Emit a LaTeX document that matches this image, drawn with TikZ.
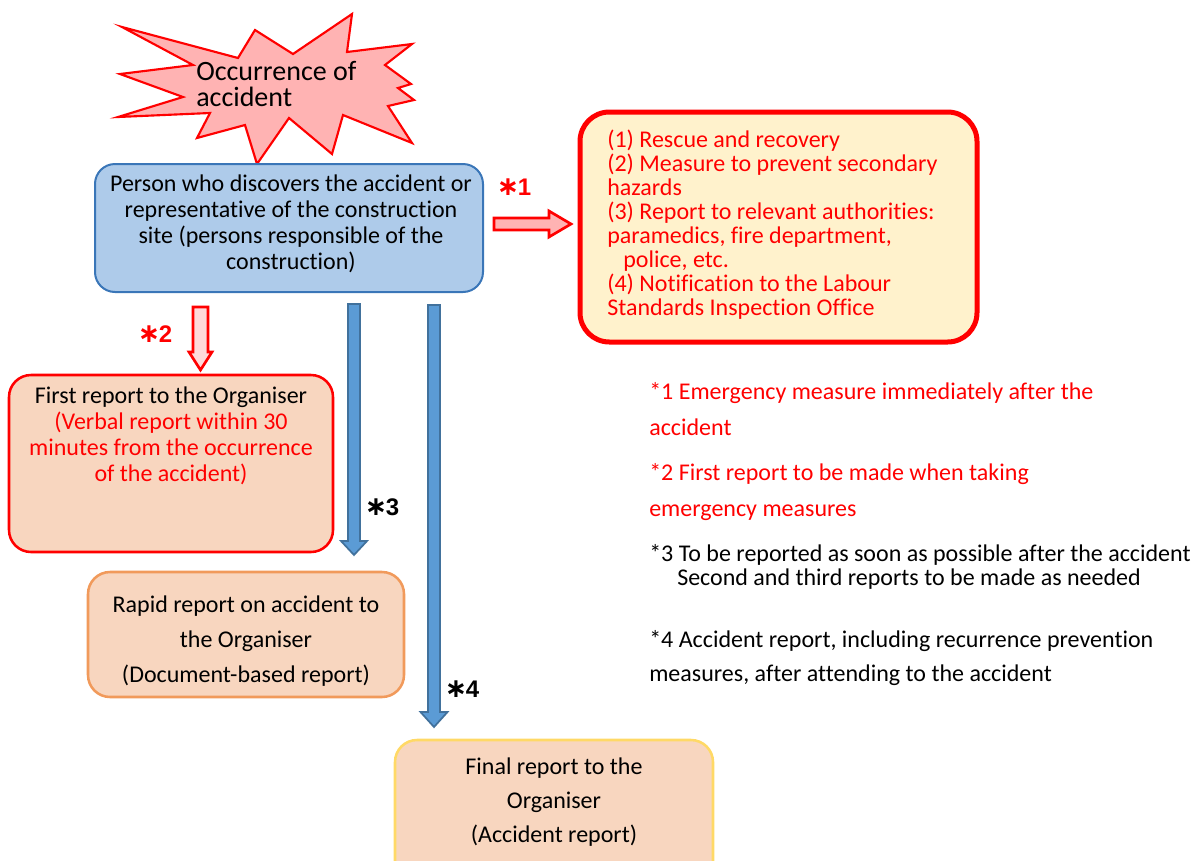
\documentclass[tikz,border=0pt]{standalone}
\usepackage{fontspec}
\setmainfont{Carlito}[Ligatures={NoCommon}]
\newfontfamily\arialfont{Liberation Sans}
\newfontfamily\symfont{DejaVu Sans}
\newcommand{\bigast}{{\symfont\bfseries\fontsize{20}{20}\selectfont ∗}}
\usetikzlibrary{calc}
\definecolor{boxblue}{HTML}{AECBEA}
\definecolor{boxblueline}{HTML}{3A76B8}
\definecolor{arrowblue}{HTML}{5B9BD5}
\definecolor{arrowblueline}{HTML}{41719C}
\definecolor{peach}{HTML}{F8D6BF}
\definecolor{lightyellow}{HTML}{FFF2CC}
\definecolor{starpink}{HTML}{FFB3B3}
\definecolor{palepink}{HTML}{FFDADA}
\definecolor{orangeline}{HTML}{F19A5B}
\definecolor{goldline}{HTML}{FFD966}
\definecolor{myred}{HTML}{FF0000}
\tikzset{
  boxnode/.style={rectangle, inner sep=0pt, rounded corners=15pt},
  txt/.style={inner sep=0pt, font=\fontsize{18}{19.5}\selectfont},
  starlabel/.style={inner sep=0pt, font=\arialfont\bfseries\fontsize{18}{18}\selectfont},
  bluearrow/.style={fill=arrowblue, draw=arrowblueline, line width=1.3pt, line join=miter},
  redarrow/.style={draw=myred, line width=2pt, line join=miter},
  burst/.style={fill=starpink, draw=myred, line width=1.6pt, line join=miter}
}
\begin{document}
\begin{tikzpicture}[x=0.75pt,y=-0.75pt]
\useasboundingbox (0,0) rectangle (1197,861);
\clip (0,0) rectangle (1197,861);

% burst
\filldraw[burst] (122,27) -- (238,58) -- (255,30) -- (293,54) -- (352,14) -- (347,52)
  -- (412,44) -- (385,65) -- (411,84) -- (398,88) -- (414,100) -- (388,106)
  -- (412,143) -- (343,115) -- (332,154) -- (289,118) -- (257,164) -- (245,125)
  -- (197,138) -- (210,113) -- (118,117) -- (183,97) -- (120,74) -- (193,65) -- cycle;
\node[inner sep=0pt, anchor=north west, align=left, font=\fontsize{21}{19.5}\selectfont] (occ) at (196,61) {Occurrence of\\accident};

% boxes
\node[boxnode, fill=boxblue, draw=boxblueline, line width=1.5pt, minimum width=291pt, minimum height=96pt] (person) at (289,228) {};
\node[txt, anchor=north, align=center] (persontxt) at (291,175) {Person who discovers the accident or\\representative of the construction\\site (persons responsible of the\\construction)};

\node[boxnode, fill=lightyellow, draw=myred, line width=3.75pt, rounded corners=22pt, minimum width=297.75pt, minimum height=172.5pt] (emerg) at (778.5,227) {};
\node[txt, anchor=north west, align=left, text=myred, font=\fontsize{18}{18}\selectfont] (emergtxt) at (607,130) {(1) Rescue and recovery\\(2) Measure to prevent secondary\\hazards\\(3) Report to relevant authorities:\\paramedics, fire department,\\\hspace*{12pt}police, etc.\\(4) Notification to the Labour\\Standards Inspection Office};

\node[boxnode, fill=peach, draw=myred, line width=1.9pt, rounded corners=16.5pt, minimum width=243pt, minimum height=132.75pt] (first) at (171,463.5) {};
\node[txt, anchor=north, align=center] (firsttxt) at (171,387) {First report to the Organiser\\\textcolor{myred}{(Verbal report within 30}\\\textcolor{myred}{minutes from the occurrence}\\\textcolor{myred}{of the accident)}};

\node[boxnode, fill=peach, draw=orangeline, line width=1.9pt, rounded corners=16.5pt, minimum width=237pt, minimum height=93.75pt] (rapid) at (246,634.5) {};
\node[txt, anchor=north, align=center, font=\fontsize{18}{26}\selectfont] (rapidtxt) at (246,596) {Rapid report on accident to\\the Organiser\\(Document-based report)};

\node[boxnode, fill=peach, draw=goldline, line width=1.9pt, rounded corners=16.5pt, minimum width=238.5pt, minimum height=108.75pt] (final) at (554,812.5) {};
\node[txt, anchor=north, align=center, font=\fontsize{18}{25.5}\selectfont] (finaltxt) at (554,758) {Final report to the\\Organiser\\(Accident report)};

% arrows
\coordinate (s1) at (494,224); \coordinate (e1) at (571,224);
\draw[redarrow, fill=starpink] ($(s1)+(0,-6)$) -- ($(e1)+(-22,-6)$) -- ($(e1)+(-22,-13)$) -- (e1) -- ($(e1)+(-22,13)$) -- ($(e1)+(-22,6)$) -- ($(s1)+(0,6)$) -- cycle;
\coordinate (s2) at (200.5,307); \coordinate (e2) at (200.5,370);
\draw[redarrow, fill=palepink] ($(s2)+(-7.5,0)$) -- ($(s2)+(7.5,0)$) -- ($(e2)+(7.5,-18)$) -- ($(e2)+(11.5,-18)$) -- (e2) -- ($(e2)+(-11.5,-18)$) -- ($(e2)+(-7.5,-18)$) -- cycle;
\coordinate (s3) at (354,304); \coordinate (e3) at (354,555);
\draw[bluearrow] ($(s3)+(-6,0)$) -- ($(s3)+(6,0)$) -- ($(e3)+(6,-14)$) -- ($(e3)+(13,-14)$) -- (e3) -- ($(e3)+(-13,-14)$) -- ($(e3)+(-6,-14)$) -- cycle;
\coordinate (s4) at (434,305); \coordinate (e4) at (434,727);
\draw[bluearrow] ($(s4)+(-6,0)$) -- ($(s4)+(6,0)$) -- ($(e4)+(6,-15)$) -- ($(e4)+(13.5,-15)$) -- (e4) -- ($(e4)+(-13.5,-15)$) -- ($(e4)+(-6,-15)$) -- cycle;

% star labels
\node[starlabel, text=myred] (l1) at (514,187) {\bigast\kern-1pt 1};
\node[starlabel, text=myred] (l2) at (155,334) {\bigast\kern-1pt 2};
\node[starlabel] (l3) at (382,507) {\bigast\kern-1pt 3};
\node[starlabel] (l4) at (462,689) {\bigast\kern-1pt 4};

% notes
\node[txt, anchor=north west, align=left, text=myred, font=\fontsize{18}{27}\selectfont] (n1) at (649,382) {*1 Emergency measure immediately after the\\accident};
\node[txt, anchor=north west, align=left, text=myred, font=\fontsize{18}{27}\selectfont] (n2) at (649,463) {*2 First report to be made when taking\\emergency measures};
\node[txt, anchor=north west, align=left, font=\fontsize{18}{18}\selectfont] (n3) at (649,544) {*3 To be reported as soon as possible after the accident\\\hspace*{21pt}Second and third reports to be made as needed};
\node[txt, anchor=north west, align=left, font=\fontsize{18}{25.5}\selectfont] (n4) at (649,630) {*4 Accident report, including recurrence prevention\\measures, after attending to the accident};
\end{tikzpicture}
\end{document}
